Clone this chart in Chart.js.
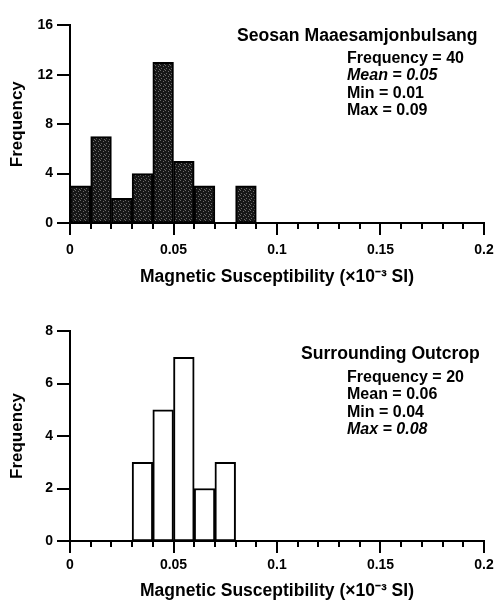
<!DOCTYPE html>
<html><head><meta charset="utf-8">
<script src="https://cdn.jsdelivr.net/npm/chart.js@4/dist/chart.umd.min.js"></script>
<style>
html,body{margin:0;padding:0;background:#fff;}
body{width:496px;height:607px;position:relative;overflow:hidden;font-family:"Liberation Sans",Arial,sans-serif;}
.wrap{position:absolute;left:0;width:496px;}
.t{position:absolute;font-weight:bold;color:#000;white-space:nowrap;font-family:"Liberation Sans",Arial,sans-serif;}
.h{font-size:17.6px;line-height:20px;}
.s{font-size:16px;line-height:17.3px;}
.i{font-style:italic;}
</style></head><body>
<div class="wrap" style="top:0;height:300px"><canvas id="c1" width="496" height="300"></canvas></div>
<div class="wrap" style="top:300px;height:307px"><canvas id="c2" width="496" height="307"></canvas></div>

<div class="t h" style="left:237px;top:25px">Seosan Maaesamjonbulsang</div>
<div class="t s" style="left:347px;top:49px">Frequency = 40<br><span class="i">Mean = 0.05</span><br>Min = 0.01<br>Max = 0.09</div>

<div class="t h" style="left:301px;top:343px">Surrounding Outcrop</div>
<div class="t s" style="left:347px;top:368px">Frequency = 20<br>Mean = 0.06<br>Min = 0.04<br><span class="i">Max = 0.08</span></div>

<script>
// ---- data ----
const binCenters = [0.005,0.015,0.025,0.035,0.045,0.055,0.065,0.075,0.085,0.095,
                    0.105,0.115,0.125,0.135,0.145,0.155,0.165,0.175,0.185,0.195];
const seosanCounts  = [3,7,2,4,13,5,3,0,3,0, 0,0,0,0,0,0,0,0,0,0];
const outcropCounts = [0,0,0,3,5,7,2,3,0,0, 0,0,0,0,0,0,0,0,0,0];
const xMin = 0, xMax = 0.2, xMinorStep = 0.01, xMajorStep = 0.05;
const yTopMax = 16, yTopStep = 4;
const yBotMax = 8, yBotStep = 2;
const xTitle = 'Magnetic Susceptibility (\u00D710\u207B\u00B3 SI)';
const yTitle = 'Frequency';

const FONT = '"Liberation Sans", Arial, sans-serif';

// speckled dark fill
function speckle(){
  const c = document.createElement('canvas'); c.width = 5; c.height = 5;
  const g = c.getContext('2d');
  g.fillStyle = '#171717'; g.fillRect(0,0,5,5);
  g.fillStyle = '#6a6a6a';
  g.fillRect(0,0,1,1); g.fillRect(3,1,1,1); g.fillRect(1,3,1,1); g.fillRect(4,4,1,1);
  return g.createPattern(c,'repeat');
}

const tickPlugin = {
  id: 'ticks',
  afterDraw(chart){
    const ctx = chart.ctx, xs = chart.scales.x, ys = chart.scales.y;
    const axY = chart.chartArea.bottom, axX = chart.chartArea.left;
    ctx.save();
    ctx.strokeStyle = '#000'; ctx.lineWidth = 2;
    xs.ticks.forEach(t => {
      const px = Math.round(xs.getPixelForValue(t.value));
      const major = t.label !== '';
      ctx.beginPath(); ctx.moveTo(px, axY); ctx.lineTo(px, axY + (major ? 12 : 6)); ctx.stroke();
    });
    ys.ticks.forEach(t => {
      const py = Math.round(ys.getPixelForValue(t.value));
      ctx.beginPath(); ctx.moveTo(axX, py); ctx.lineTo(axX - 13, py); ctx.stroke();
    });
    ctx.restore();
  }
};

function make(id, counts, fill, yMax, yStep, padTop, xHeight, xLabelPad, xTitlePad){
  const data = binCenters.map((c,i) => ({x:c, y:counts[i]}));
  return new Chart(document.getElementById(id), {
    type: 'bar',
    data: { datasets: [{ data, backgroundColor: fill, borderColor: '#000', borderWidth: 2,
      borderSkipped: false, barPercentage: 1, categoryPercentage: 1 }] },
    options: {
      responsive: false, animation: false, devicePixelRatio: 1,
      layout: { padding: { top: padTop, right: 12, left: 0, bottom: 0 } },
      plugins: { legend: {display:false}, tooltip: {enabled:false} },
      scales: {
        x: {
          type: 'linear', min: xMin, max: xMax, offset: false,
          grid: { display: false, drawTicks: false, offset: false },
          border: { display: true, color: '#000', width: 2 },
          ticks: {
            stepSize: xMinorStep, autoSkip: false, maxRotation: 0, padding: xLabelPad,
            color: '#000', font: { family: FONT, size: 14, weight: 'bold' },
            callback: v => {
              const r = v / xMajorStep;
              return Math.abs(r - Math.round(r)) < 1e-6 ? String(+v.toFixed(2)) : '';
            }
          },
          title: { display: true, text: xTitle, color: '#000',
            font: { family: FONT, size: 17.5, weight: 'bold' }, padding: { top: 0, bottom: xTitlePad } },
          afterFit: s => { s.height = xHeight; s.paddingLeft = 0; s.paddingRight = 0; }
        },
        y: {
          min: 0, max: yMax,
          grid: { display: false, drawTicks: false },
          border: { display: true, color: '#000', width: 2 },
          ticks: { stepSize: yStep, padding: 17, color: '#000',
            font: { family: FONT, size: 14, weight: 'bold' } },
          title: { display: true, text: yTitle, color: '#000',
            font: { family: FONT, size: 17, weight: 'bold' }, padding: { top: 7, bottom: 0 } },
          afterFit: s => { s.width = 70; }
        }
      }
    },
    plugins: [tickPlugin]
  });
}

make('c1', seosanCounts, speckle(), yTopMax, yTopStep, 15, 77, 18.6, 12);
make('c2', outcropCounts, '#ffffff', yBotMax, yBotStep, 31, 66, 15.6, 5);
</script>
</body></html>
